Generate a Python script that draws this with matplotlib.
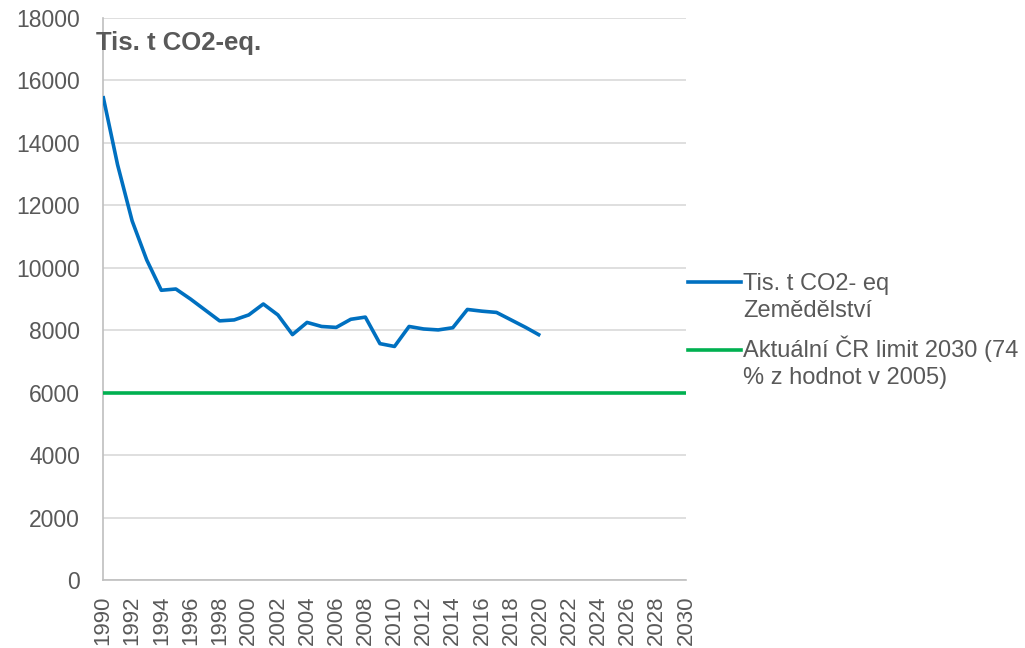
import matplotlib
matplotlib.use("Agg")
import matplotlib.pyplot as plt
from matplotlib.lines import Line2D

plt.rcParams['font.family'] = ['Liberation Sans', 'DejaVu Sans']

years = list(range(1990, 2021))
emissions = [15500, 13300, 11500, 10250, 9280, 9320, 9000, 8650, 8300, 8330,
             8490, 8840, 8490, 7860, 8250, 8120, 8090, 8350, 8420, 7570,
             7480, 8120, 8040, 8010, 8080, 8665, 8610, 8570, 8330, 8090, 7830]
limit_years = [1990, 2030]
limit_values = [6000, 6000]
x_ticks = list(range(1990, 2031, 2))
y_ticks = list(range(0, 18001, 2000))

series_labels = [["Tis. t CO2- eq", "Zemědělství"],
                 ["Aktuální ČR limit 2030 (74", "% z hodnot v 2005)"]]
title_text = "Tis. t CO2-eq."

blue = "#0070C0"
green = "#00B050"
gray_text = "#595959"

W, H = 1025, 648
fig = plt.figure(figsize=(W / 100, H / 100), dpi=100)
ax = fig.add_axes([103 / W, 1 - 580 / H, (686 - 103) / W, (580 - 18) / H])

ax.plot(years, emissions, color=blue, lw=2.6, solid_capstyle='butt', zorder=3)
ax.plot(limit_years, limit_values, color=green, lw=2.6, solid_capstyle='butt', zorder=3)

ax.set_xlim(1990, 2030)
ax.set_ylim(0, 18000)
ax.set_xticks(x_ticks)
ax.set_xticklabels([str(t) for t in x_ticks], rotation=90)
ax.set_yticks(y_ticks)
ax.yaxis.grid(True, color="#d9d9d9", lw=1.2)
ax.set_axisbelow(True)
for s in ["top", "right"]:
    ax.spines[s].set_visible(False)
for s in ["left", "bottom"]:
    ax.spines[s].set_color("#bfbfbf")
    ax.spines[s].set_linewidth(1.2)
ax.tick_params(axis='y', length=0, pad=16.5, labelsize=16.5, labelcolor=gray_text)
ax.tick_params(axis='x', length=0, pad=11, labelsize=16, labelcolor=gray_text)

fig.text(96 / W, 1 - 50 / H, title_text, fontsize=18.5, fontweight='bold',
         color=gray_text, va='baseline', ha='left')

# legend (manual, first line aligned with handle)
legend_rows = [(282, 290, blue, series_labels[0]), (350, 357, green, series_labels[1])]
for yline, ybase, col, lines in legend_rows:
    yf = 1 - yline / H
    fig.add_artist(Line2D([688 / W, 741 / W], [yf, yf], color=col, lw=2.6,
                          transform=fig.transFigure))
    for i, txt in enumerate(lines):
        fig.text(743 / W, 1 - (ybase + 27 * i) / H, txt, fontsize=17,
                 color=gray_text, va='baseline', ha='left')

fig.savefig("out.png", dpi=100)
